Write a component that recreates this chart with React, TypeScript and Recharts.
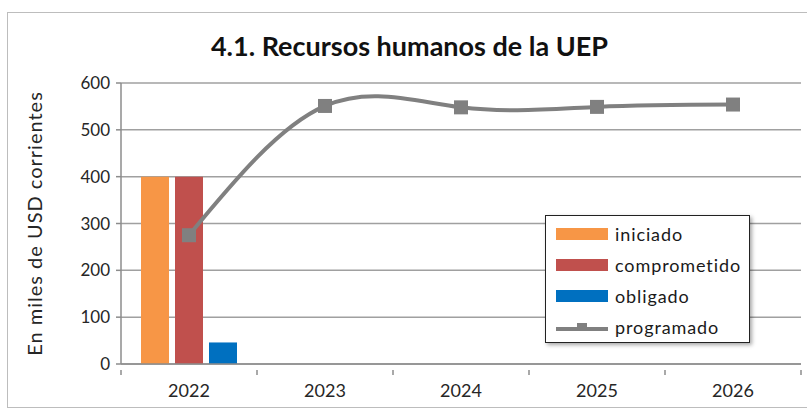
import React from "react";
import {
  ComposedChart,
  Bar,
  Line,
  XAxis,
  YAxis,
  CartesianGrid,
} from "recharts";

const years = ["2022", "2023", "2024", "2025", "2026"];
const iniciado = [400, null, null, null, null];
const comprometido = [400, null, null, null, null];
const obligado = [46, null, null, null, null];
const programado = [275, 551, 548, 549, 554];
const yTicks = [0, 100, 200, 300, 400, 500, 600];

const data = years.map((year, i) => ({
  year,
  iniciado: iniciado[i],
  comprometido: comprometido[i],
  obligado: obligado[i],
  programado: programado[i],
}));

const FONT = "Lato, 'Open Sans', sans-serif";
const W = 807;
const H = 417;
const margin = { top: 83, right: 6, bottom: 23, left: 71 };
const Y_AXIS_W = 50;
const halfBand = (W - margin.left - Y_AXIS_W - margin.right) / years.length / 2;

const legendItems = [
  { label: "iniciado", color: "#F79646", type: "bar" },
  { label: "comprometido", color: "#C0504D", type: "bar" },
  { label: "obligado", color: "#0070C0", type: "bar" },
  { label: "programado", color: "#808080", type: "line" },
];

function XTick(props: any) {
  const { x, y, payload, index } = props;
  const axisY = y - 14;
  return (
    <g>
      <line x1={x - halfBand} x2={x - halfBand} y1={axisY} y2={axisY + 5} stroke="#8c8c8c" strokeWidth={1.5} />
      {index === years.length - 1 && (
        <line x1={x + halfBand} x2={x + halfBand} y1={axisY} y2={axisY + 5} stroke="#8c8c8c" strokeWidth={1.5} />
      )}
      <text x={x} y={y} dy={13} textAnchor="middle" fill="#262626" fontSize={18} fontFamily={FONT}>
        {payload.value}
      </text>
    </g>
  );
}

function LegendBox() {
  return (
    <div
      style={{
        position: "absolute",
        left: 545,
        top: 215,
        width: 205,
        height: 128,
        border: "1.5px solid #222",
        background: "#fff",
        boxShadow: "2px 2px 4px rgba(0,0,0,0.35)",
        boxSizing: "border-box",
        padding: "2px 0 0 10px",
        fontFamily: FONT,
        fontSize: 18,
        letterSpacing: 0.9,
        color: "#1a1a1a",
      }}
    >
      {legendItems.map((it) => (
        <div key={it.label} style={{ display: "flex", alignItems: "center", height: 31 }}>
          {it.type === "bar" ? (
            <div style={{ width: 52, height: 12, background: it.color, marginRight: 7 }} />
          ) : (
            <svg width={52} height={14} style={{ marginRight: 7 }}>
              <line x1={0} x2={52} y1={9} y2={9} stroke={it.color} strokeWidth={4} />
              <rect x={21} y={3} width={10} height={8} fill={it.color} />
            </svg>
          )}
          <span>{it.label}</span>
        </div>
      ))}
    </div>
  );
}

function SquareDot(props: any) {
  const { cx, cy } = props;
  if (cx == null || cy == null) return null;
  return <rect x={cx - 7} y={cy - 7} width={14} height={14} fill="#808080" />;
}

export default function App() {
  return (
    <div style={{ position: "absolute", left: 0, top: 0, width: W, height: H, background: "#fff", overflow: "hidden" }}>
      <div
        style={{
          position: "absolute",
          left: 7,
          top: 12,
          width: 820,
          height: 396,
          border: "1.5px solid #bdbdbd",
          boxSizing: "border-box",
        }}
      />
      <div
        style={{
          position: "absolute",
          left: 0,
          width: W,
          top: 29,
          textAlign: "center",
          fontFamily: FONT,
          fontWeight: 700,
          fontSize: 27,
          color: "#111",
          paddingLeft: 12,
          boxSizing: "border-box",
        }}
      >
        4.1. Recursos humanos de la UEP
      </div>
      <div style={{ position: "absolute", left: 0, top: 0 }}>
        <ComposedChart width={W} height={H} data={data} margin={margin} barGap={6}>
          <CartesianGrid vertical={false} stroke="#a0a0a0" strokeWidth={1.5} />
          <XAxis
            dataKey="year"
            stroke="#8c8c8c"
            strokeWidth={1.5}
            tickLine={false}
            tick={<XTick />}
            tickMargin={14}
            height={30}
          />
          <YAxis
            width={Y_AXIS_W}
            domain={[0, 600]}
            ticks={yTicks}
            stroke="#8c8c8c"
            strokeWidth={1.5}
            tickSize={5}
            tickMargin={6}
            tick={{ fill: "#262626", fontSize: 17, fontFamily: FONT }}
            label={{
              value: "En miles de USD corrientes",
              angle: -90,
              position: "insideLeft",
              offset: 0,
              dx: -36,
              dy: 0,
              style: { textAnchor: "middle", fill: "#262626", fontSize: 20, letterSpacing: 1, fontFamily: FONT },
            }}
          />
          <Bar dataKey="iniciado" fill="#F79646" barSize={28} isAnimationActive={false} />
          <Bar dataKey="comprometido" fill="#C0504D" barSize={28} isAnimationActive={false} />
          <Bar dataKey="obligado" fill="#0070C0" barSize={28} isAnimationActive={false} />
          <Line
            dataKey="programado"
            type="natural"
            stroke="#808080"
            strokeWidth={4}
            dot={<SquareDot />}
            activeDot={false}
            isAnimationActive={false}
          />
        </ComposedChart>
      </div>
      <LegendBox />
    </div>
  );
}
